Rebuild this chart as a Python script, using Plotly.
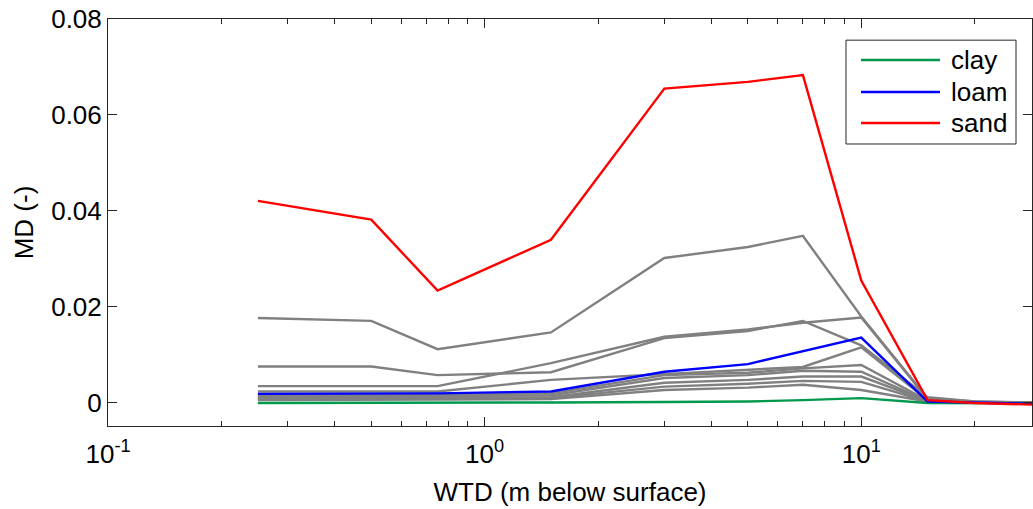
import plotly.graph_objects as go

# Water table depth (m below surface)
wtd = [0.25, 0.5, 0.75, 1.5, 3, 5, 7, 10, 15, 20, 30]

# Highlighted soil classes
clay = [0.0000, 0.0000, 0.0000, 0.0001, 0.0002, 0.0003, 0.0006, 0.0010, 0.0000, 0.0000, -0.0001]
loam = [0.0019, 0.0019, 0.0020, 0.0024, 0.0065, 0.0081, 0.0107, 0.0136, 0.0003, 0.0001, -0.0002]
sand = [0.0421, 0.0382, 0.0234, 0.0340, 0.0655, 0.0669, 0.0683, 0.0255, 0.0006, 0.0000, -0.0004]

# Other soil classes (grey)
other_1 = [0.0177, 0.0171, 0.0112, 0.0147, 0.0302, 0.0325, 0.0348, 0.0180, 0.0010, 0.0003, 0.0001]
other_2 = [0.0076, 0.0076, 0.0058, 0.0064, 0.0135, 0.0150, 0.0171, 0.0120, 0.0012, 0.0003, 0.0000]
other_3 = [0.0035, 0.0035, 0.0035, 0.0083, 0.0138, 0.0153, 0.0167, 0.0178, 0.0008, 0.0002, 0.0000]
other_4 = [0.0024, 0.0024, 0.0024, 0.0048, 0.0060, 0.0068, 0.0075, 0.0116, 0.0006, 0.0002, 0.0000]
other_5 = [0.0016, 0.0016, 0.0017, 0.0020, 0.0058, 0.0063, 0.0072, 0.0079, 0.0005, 0.0002, 0.0000]
other_6 = [0.0013, 0.0013, 0.0014, 0.0016, 0.0052, 0.0058, 0.0067, 0.0065, 0.0004, 0.0001, 0.0000]
other_7 = [0.0010, 0.0010, 0.0011, 0.0012, 0.0042, 0.0048, 0.0055, 0.0055, 0.0004, 0.0001, 0.0000]
other_8 = [0.0008, 0.0008, 0.0009, 0.0010, 0.0034, 0.0040, 0.0046, 0.0044, 0.0003, 0.0001, 0.0000]
other_9 = [0.0006, 0.0006, 0.0007, 0.0008, 0.0027, 0.0032, 0.0038, 0.0027, 0.0003, 0.0001, 0.0000]

others = [other_1, other_2, other_3, other_4, other_5, other_6, other_7, other_8, other_9]

x_ticks = [0.1, 1, 10]
x_tick_labels = ["10<sup>-1</sup>", "10<sup>0</sup>", "10<sup>1</sup>"]
y_ticks = [0, 0.02, 0.04, 0.06, 0.08]
y_tick_labels = ["0", "0.02", "0.04", "0.06", "0.08"]

legend_names = ["clay", "loam", "sand"]
legend_colors = ["#00994c", "#0000ff", "#ff0000"]

FONT = "Liberation Sans, Arial, sans-serif"
FS = 26
LW = 2.4
AX = "#262626"

fig = go.Figure()
for s in others:
    fig.add_trace(go.Scatter(x=wtd, y=s, mode="lines", line=dict(color="#808080", width=LW),
                             showlegend=False, hoverinfo="skip"))
for name, vals, col in zip(legend_names, [clay, loam, sand], legend_colors):
    fig.add_trace(go.Scatter(x=wtd, y=vals, mode="lines", name=name,
                             line=dict(color=col, width=LW), showlegend=False))

axis_common = dict(showline=True, linecolor=AX, linewidth=1, mirror="ticks",
                   ticks="inside", tickcolor=AX, showgrid=False, zeroline=False,
                   tickfont=dict(family=FONT, size=FS, color="black"))

fig.update_xaxes(type="log", range=[-1, 1.4533], tickvals=x_ticks, ticktext=x_tick_labels,
                 ticklen=9, tickwidth=1, ticklabelstandoff=5,
                 minor=dict(ticks="inside", ticklen=5, dtick="D1", tickcolor=AX, showgrid=False),
                 title=dict(text="WTD (m below surface)", font=dict(family=FONT, size=FS, color="black"),
                            standoff=14),
                 **axis_common)
fig.update_yaxes(range=[-0.0048, 0.08], tickvals=y_ticks, ticktext=y_tick_labels, ticklen=9,
                 title=dict(text="MD (-)", font=dict(family=FONT, size=FS, color="black"), standoff=10),
                 **axis_common)

# Legend box (drawn in paper coordinates, matching the original legend layout)
fig.add_shape(type="rect", xref="paper", yref="paper", x0=0.7987, x1=0.9827, y0=0.6929, y1=0.948,
              line=dict(color=AX, width=1), fillcolor="white", layer="above")
legend_y = [0.8993, 0.8206, 0.7445]
for name, col, ly in zip(legend_names, legend_colors, legend_y):
    fig.add_shape(type="line", xref="paper", yref="paper", x0=0.8149, x1=0.9004, y0=ly, y1=ly,
                  line=dict(color=col, width=LW), layer="above")
    fig.add_annotation(xref="paper", yref="paper", x=0.9102, y=ly, text=name, showarrow=False,
                       xanchor="left", yanchor="middle",
                       font=dict(family=FONT, size=FS, color="black"))

fig.update_layout(
    width=1033, height=509,
    margin=dict(l=108, r=1, t=19, b=83),
    paper_bgcolor="white", plot_bgcolor="white",
    font=dict(family=FONT, color="black"),
    showlegend=False,
)

fig.write_html("out.html")
